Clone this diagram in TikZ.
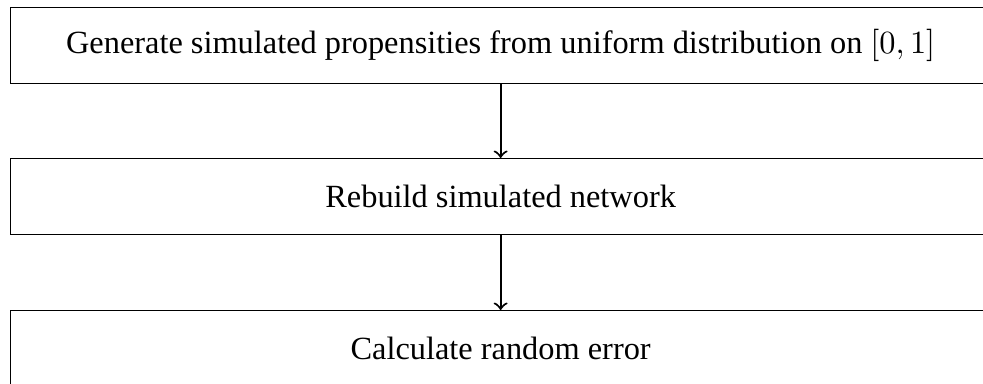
\documentclass[tikz,border=0pt]{standalone}
\usepackage{fontspec}
\setmainfont{Liberation Serif}
\begin{document}
\begin{tikzpicture}[x=0.309pt,y=-0.309pt,
  box/.style={draw, line width=0.4pt, minimum width={980*0.309pt}, minimum height={76*0.309pt}, anchor=north west, inner sep=0pt, font=\fontsize{10}{12}\selectfont},
  conn/.style={->, line width=0.65pt}]
\useasboundingbox (0,0) rectangle (983,383);
\node[box] (a) at (10,7) {Generate simulated propensities from uniform distribution on $[0,1]$};
\node[box] (b) at (10,158) {Rebuild simulated network};
\node[box] (c) at (10,310) {Calculate random error};
\draw[conn] (a) -- (b);
\draw[conn] (b) -- (c);
\end{tikzpicture}
\end{document}
